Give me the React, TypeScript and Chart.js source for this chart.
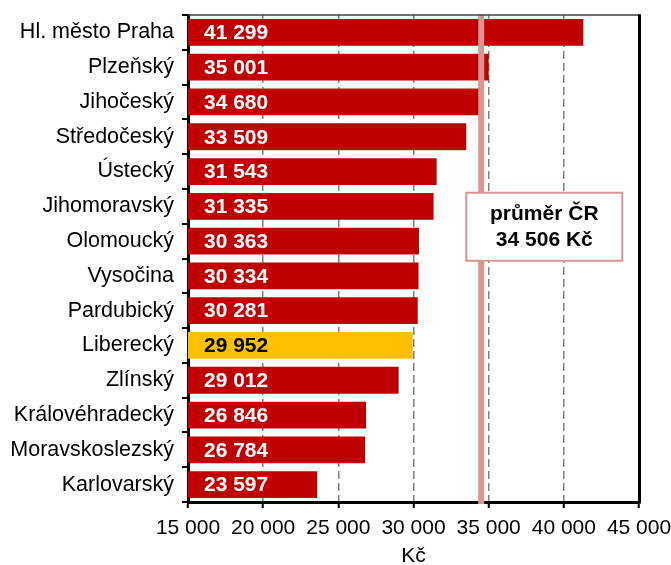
import { useEffect, useRef } from "react";
import { Chart, registerables } from "chart.js";

Chart.register(...registerables);

const regions = [
  "Hl. město Praha",
  "Plzeňský",
  "Jihočeský",
  "Středočeský",
  "Ústecký",
  "Jihomoravský",
  "Olomoucký",
  "Vysočina",
  "Pardubický",
  "Liberecký",
  "Zlínský",
  "Královéhradecký",
  "Moravskoslezský",
  "Karlovarský",
];
const wages = [41299, 35001, 34680, 33509, 31543, 31335, 30363, 30334, 30281, 29952, 29012, 26846, 26784, 23597];
const highlightRegion = "Liberecký";
const averageValue = 34506;
const averageLines = ["průměr ČR", "34 506 Kč"];
const xMin = 15000;
const xMax = 45000;
const xStep = 5000;
const axisTitle = "Kč";

const FONT = "Arial, 'Liberation Sans', sans-serif";
const RED = "#C00000";
const GOLD = "#FFC000";
const PINK = "#D99694";

const fmt = (n: number) => String(n).replace(/\B(?=(\d{3})+(?!\d))/g, " ");

export default function App() {
  const ref = useRef<HTMLCanvasElement | null>(null);
  useEffect(() => {
    document.body.style.margin = "0";
    const canvas = ref.current!;
    const overlay = {
      id: "overlay",
      afterDatasetsDraw(chart: any) {
        const { ctx, chartArea } = chart;
        const xs = chart.scales.x;
        const meta = chart.getDatasetMeta(0);
        ctx.save();
        ctx.font = `bold 21px ${FONT}`;
        ctx.textBaseline = "middle";
        ctx.textAlign = "left";
        meta.data.forEach((el: any, i: number) => {
          ctx.fillStyle = regions[i] === highlightRegion ? "#000000" : "#FFFFFF";
          ctx.fillText(fmt(wages[i]), xs.getPixelForValue(xMin) + 16, el.y + 1);
        });
        // average line
        const ax = xs.getPixelForValue(averageValue);
        ctx.strokeStyle = PINK;
        ctx.lineWidth = 6;
        ctx.beginPath();
        ctx.moveTo(ax, chartArea.top);
        ctx.lineTo(ax, chartArea.bottom + 2);
        ctx.stroke();
        ctx.restore();
      },
      afterDraw(chart: any) {
        const { ctx, chartArea } = chart;
        ctx.save();
        // frame top / right
        ctx.strokeStyle = "#404040";
        ctx.lineWidth = 1.5;
        ctx.beginPath();
        ctx.moveTo(chartArea.left, chartArea.top);
        ctx.lineTo(chartArea.right, chartArea.top);
        ctx.stroke();
        ctx.strokeStyle = "#000000";
        ctx.lineWidth = 3;
        ctx.beginPath();
        ctx.moveTo(chartArea.right + 0.5, chartArea.top - 0.75);
        ctx.lineTo(chartArea.right + 0.5, chartArea.bottom + 1.5);
        ctx.stroke();
        // average box
        const w = chartArea.right - chartArea.left;
        const h = chartArea.bottom - chartArea.top;
        const cx = chartArea.left + 0.79 * w;
        const bw = 156;
        const bh = 68;
        const by = chartArea.top + 0.365 * h;
        ctx.fillStyle = "#FFFFFF";
        ctx.fillRect(cx - bw / 2, by, bw, bh);
        ctx.strokeStyle = PINK;
        ctx.lineWidth = 2;
        ctx.strokeRect(cx - bw / 2, by, bw, bh);
        ctx.fillStyle = "#000000";
        ctx.font = `bold 21px ${FONT}`;
        ctx.textAlign = "center";
        ctx.textBaseline = "middle";
        ctx.fillText(averageLines[0], cx, by + 21);
        ctx.fillText(averageLines[1], cx, by + 47);
        ctx.restore();
      },
    };
    const chart = new Chart(canvas, {
      type: "bar",
      data: {
        labels: regions,
        datasets: [
          {
            data: wages,
            backgroundColor: regions.map((r) => (r === highlightRegion ? GOLD : RED)),
            barPercentage: 0.77,
            categoryPercentage: 1,
          },
        ],
      },
      options: {
        indexAxis: "y",
        responsive: false,
        animation: false,
        layout: { padding: { top: 15, right: 32, left: 0, bottom: 0 } },
        plugins: { legend: { display: false }, tooltip: { enabled: false }, title: { display: false } },
        scales: {
          x: {
            type: "linear",
            min: xMin,
            max: xMax,
            afterFit(scale: any) {
              scale.height = 63;
              scale.paddingLeft = 0;
              scale.paddingRight = 0;
            },
            ticks: {
              stepSize: xStep,
              color: "#000000",
              font: { family: FONT, size: 21 },
              padding: 8,
              maxRotation: 0,
              callback: (v: any) => fmt(Number(v)),
            },
            grid: {
              color: "#808080",
              lineWidth: 1.5,
              tickColor: "#000000",
              tickLength: 6,
              tickWidth: 2,
            },
            border: { color: "#000000", width: 3, dash: [8, 4] },
            title: {
              display: true,
              text: axisTitle,
              color: "#000000",
              font: { family: FONT, size: 21, lineHeight: 1 },
              padding: { top: 4, bottom: -2 },
            },
          },
          y: {
            type: "category",
            afterFit(scale: any) {
              scale.width = 188;
              scale.paddingTop = 0;
              scale.paddingBottom = 0;
            },
            ticks: {
              color: "#000000",
              font: { family: FONT, size: 21.5 },
              padding: 8,
              autoSkip: false,
            },
            grid: {
              offset: true,
              drawOnChartArea: false,
              color: "#000000",
              tickLength: 6,
              lineWidth: 2,
            },
            border: { color: "#000000", width: 3 },
          },
        },
      },
      plugins: [overlay],
    });
    return () => chart.destroy();
  }, []);
  return (
    <div style={{ width: 671, height: 565 }}>
      <canvas ref={ref} width={671} height={565} style={{ display: "block" }} />
    </div>
  );
}
